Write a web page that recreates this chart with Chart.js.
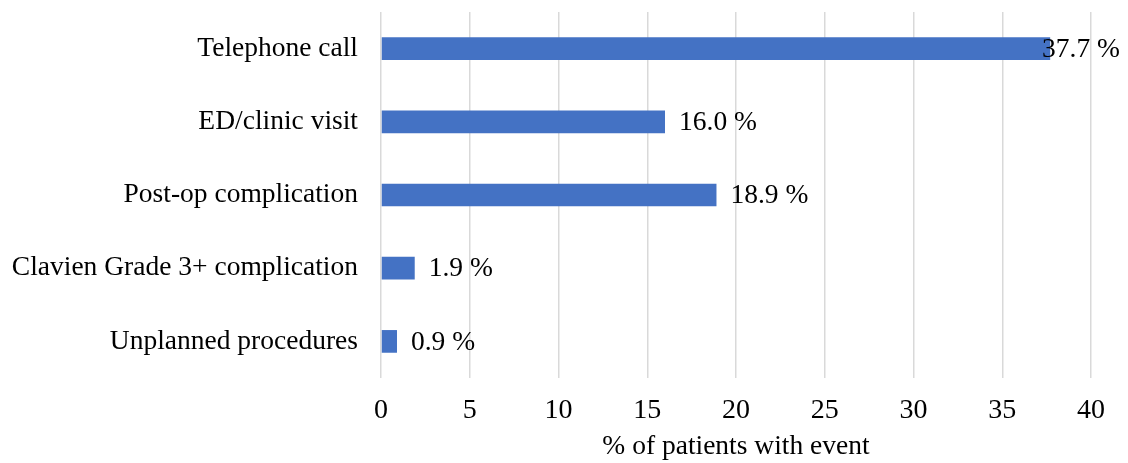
<!DOCTYPE html>
<html>
<head>
<meta charset="utf-8">
<script src="https://cdn.jsdelivr.net/npm/chart.js@4"></script>
<style>
  html, body { margin: 0; padding: 0; background: #ffffff; }
  #wrap { width: 1128px; height: 463px; }
</style>
</head>
<body>
<div id="wrap"><canvas id="chart" width="1128" height="463"></canvas></div>
<script>
  const categories = [
    "Telephone call",
    "ED/clinic visit",
    "Post-op complication",
    "Clavien Grade 3+ complication",
    "Unplanned procedures"
  ];
  const percentValues = [37.7, 16.0, 18.9, 1.9, 0.9];
  const xTicks = [0, 5, 10, 15, 20, 25, 30, 35, 40];
  const axisTitle = "% of patients with event";

  const fontFamily = "'Liberation Serif', 'Times New Roman', serif";
  const fontSize = 27.5;
  const tickSize = 28;
  const barColor = "#4472C4";

  // value labels to the right of each bar, pulled back inside the canvas when too long
  const barLabels = {
    id: "barLabels",
    afterDatasetsDraw(chart) {
      const { ctx } = chart;
      const meta = chart.getDatasetMeta(0);
      ctx.save();
      ctx.font = `${fontSize}px ${fontFamily}`;
      ctx.fillStyle = "#000000";
      ctx.textBaseline = "middle";
      ctx.textAlign = "left";
      meta.data.forEach((bar, index) => {
        const text = `${percentValues[index].toFixed(1)} %`;
        const width = ctx.measureText(text).width;
        const x = Math.min(bar.x + 14, chart.width - 8 - width);
        ctx.fillText(text, x, bar.y + 1);
      });
      ctx.restore();
    }
  };

  new Chart(document.getElementById("chart"), {
    type: "bar",
    data: {
      labels: categories,
      datasets: [
        {
          data: percentValues,
          backgroundColor: barColor,
          borderWidth: 0,
          categoryPercentage: 1,
          barPercentage: 0.31
        }
      ]
    },
    options: {
      indexAxis: "y",
      responsive: false,
      animation: false,
      layout: {
        padding: { top: 12, right: 37, left: 0, bottom: 0 }
      },
      plugins: {
        legend: { display: false },
        tooltip: { enabled: false }
      },
      scales: {
        x: {
          min: 0,
          max: 40,
          afterBuildTicks(scale) {
            scale.ticks = xTicks.map((value) => ({ value }));
          },
          afterFit(scale) {
            scale.height = 85;
            scale.paddingLeft = 0;
            scale.paddingRight = 0;
          },
          grid: {
            color: "#d9d9d9",
            lineWidth: 1.5,
            drawTicks: false
          },
          border: { display: false },
          ticks: {
            color: "#000000",
            padding: 16,
            font: { family: fontFamily, size: tickSize }
          },
          title: {
            display: true,
            text: axisTitle,
            color: "#000000",
            padding: { top: 0, bottom: 0 },
            font: { family: fontFamily, size: fontSize }
          }
        },
        y: {
          afterFit(scale) {
            scale.width = 381;
            scale.paddingTop = 0;
            scale.paddingBottom = 0;
          },
          grid: { display: false, drawTicks: false },
          border: { display: false },
          ticks: {
            color: "#000000",
            padding: 23,
            font: { family: fontFamily, size: fontSize }
          }
        }
      }
    },
    plugins: [barLabels]
  });
</script>
</body>
</html>
